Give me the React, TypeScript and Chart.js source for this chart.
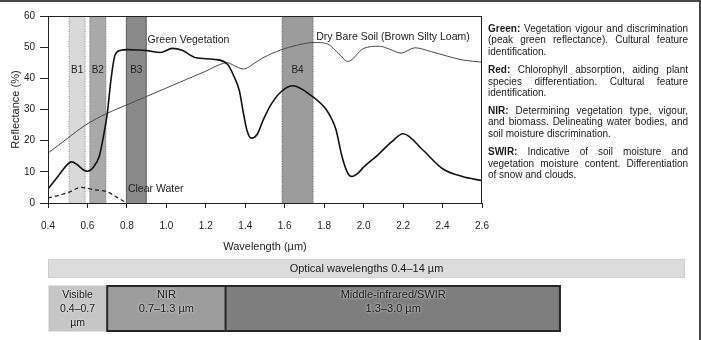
import { useEffect, useRef } from 'react';
import { Chart, registerables } from 'chart.js';

Chart.register(...registerables);

const W = 701;
const H = 340;
const FONT = '"Liberation Sans", Arial, Helvetica, sans-serif';
const INK = '#222';

// Axis ticks
const xTicks = [0.4, 0.6, 0.8, 1.0, 1.2, 1.4, 1.6, 1.8, 2.0, 2.2, 2.4, 2.6];
const yTicks = [0, 10, 20, 30, 40, 50, 60];

// Green vegetation reflectance curve (wavelength µm, reflectance %)
const vegWavelength = [
  0.4, 0.45, 0.5, 0.52, 0.55, 0.58, 0.6, 0.63, 0.66, 0.68, 0.7, 0.72, 0.74, 0.77, 0.8, 0.85, 0.9, 0.97,
  1.03, 1.08, 1.15, 1.24, 1.31, 1.34, 1.37, 1.39, 1.41, 1.43, 1.46, 1.49, 1.525, 1.575, 1.64, 1.74, 1.81,
  1.84, 1.86, 1.89, 1.92, 1.94, 1.97, 2.0, 2.07, 2.14, 2.2, 2.3, 2.4, 2.5, 2.6,
];
const vegReflectance = [
  4.5, 8.5, 12.5, 13.2, 12.2, 10.6, 10.2, 11.5, 15, 21, 28.5, 40, 47.5, 49.0, 49.2, 49.1, 48.9, 48.3,
  49.6, 49.0, 46.6, 46.1, 44.5, 41, 36, 29, 23, 20.8, 22, 26.5, 31, 35.3, 37.6, 34.2, 30,
  26.7, 23.5, 15, 9.5, 8.5, 9.5, 11.5, 15.3, 19.5, 22.2, 17, 11, 8.5, 7.2,
];

// Dry bare soil (brown silty loam)
const soilWavelength = [
  0.4, 0.5, 0.59, 0.7, 0.8, 0.9, 1.0, 1.1, 1.2, 1.27, 1.31, 1.34, 1.39, 1.45, 1.49, 1.58, 1.66, 1.75,
  1.81, 1.88, 1.92, 2.0, 2.08, 2.13, 2.19, 2.26, 2.34, 2.42, 2.5, 2.6,
];
const soilReflectance = [
  16.0, 20.8, 25, 28.8, 31.5, 34.2, 36.9, 39.6, 42.3, 44.4, 45.0, 44.2, 43.0, 45, 46.6, 49.1, 50.6, 51.5,
  51.2, 47.5, 45.4, 49.6, 50.3, 49.4, 48.1, 49.8, 48.6, 47.2, 45.9, 45.2,
];

// Clear water
const waterWavelength = [0.4, 0.45, 0.5, 0.57, 0.63, 0.7, 0.75, 0.8];
const waterReflectance = [1.6, 2.4, 3.3, 5.0, 4.3, 3.6, 1.8, 0];

// Sensor bands (µm)
const bandNames = ['B1', 'B2', 'B3', 'B4'];
const bandStart = [0.505, 0.61, 0.795, 1.585];
const bandEnd = [0.59, 0.695, 0.9, 1.745];
const bandFill = ['#d9d9d9', '#a9a9a9', '#8a8a8a', '#9c9c9c'];
const bandEdge = ['#9a9a9a', '#8c8c8c', '#666666', '#707070'];
const bandLabelY = 42.5;

// Curve captions (anchored in data units)
const curveLabels = ['Green Vegetation', 'Dry Bare Soil (Brown Silty Loam)', 'Clear Water'];
const curveLabelX = [0.905, 1.76, 0.805];
const curveLabelY = [52.2, 53.2, 4.6];

// Spectral regions
const regionEdges = [0.4, 0.7, 1.3, 3.0];
const regionText = [['Visible', '0.4–0.7', 'µm'], ['NIR', '0.7–1.3 µm'], ['Middle-infrared/SWIR', '1.3–3.0 µm']];
const regionFill = ['#c6c6c6', '#9d9d9d', '#7e7e7e'];
const opticalLabel = 'Optical wavelengths 0.4–14 µm';

// Side notes: bold heading + justified lines
const noteHeads = ['Green:', 'Red:', 'NIR:', 'SWIR:'];
const noteLines = [
  ['Vegetation vigour and discrimination', '(peak green reflectance). Cultural feature', 'identification.'],
  ['Chlorophyll absorption, aiding plant', 'species differentiation. Cultural feature', 'identification.'],
  ['Determining vegetation type, vigour,', 'and biomass. Delineating water bodies, and', 'soil moisture discrimination.'],
  ['Indicative of soil moisture and', 'vegetation moisture content. Differentiation', 'of snow and clouds.'],
];

const toPoints = (xs: number[], ys: number[]) => xs.map((x, i) => ({ x, y: ys[i] }));

function drawJustified(ctx: CanvasRenderingContext2D, head: string | null, text: string, x: number, y: number, width: number, justify: boolean) {
  const words: { t: string; bold: boolean }[] = [];
  if (head) words.push({ t: head, bold: true });
  text.split(' ').forEach((t) => words.push({ t, bold: false }));
  const reg = `10px ${FONT}`;
  const bold = `bold 10px ${FONT}`;
  const widths = words.map((w) => {
    ctx.font = w.bold ? bold : reg;
    return ctx.measureText(w.t).width;
  });
  ctx.font = reg;
  const space = ctx.measureText(' ').width;
  const total = widths.reduce((a, b) => a + b, 0);
  const gap = justify && words.length > 1 ? (width - total) / (words.length - 1) : space;
  let cx = x;
  words.forEach((w, i) => {
    ctx.font = w.bold ? bold : reg;
    ctx.fillText(w.t, cx, y);
    cx += widths[i] + gap;
  });
}

const decorPlugin = {
  id: 'decor',
  beforeDatasetsDraw(chart: any) {
    const { ctx, chartArea: a, scales } = chart;
    const x = scales.x;
    const y = scales.y;
    ctx.save();
    bandNames.forEach((name, i) => {
      const l = x.getPixelForValue(bandStart[i]);
      const r = x.getPixelForValue(bandEnd[i]);
      ctx.fillStyle = bandFill[i];
      ctx.fillRect(l, a.top, r - l, a.bottom - a.top);
      ctx.strokeStyle = bandEdge[i];
      ctx.lineWidth = 1;
      ctx.setLineDash(i === 2 ? [] : [1, 1.5]);
      ctx.beginPath();
      ctx.moveTo(l + 0.5, a.top);
      ctx.lineTo(l + 0.5, a.bottom);
      ctx.moveTo(r - 0.5, a.top);
      ctx.lineTo(r - 0.5, a.bottom);
      ctx.stroke();
      ctx.setLineDash([]);
      ctx.fillStyle = INK;
      ctx.font = `10px ${FONT}`;
      ctx.textAlign = 'center';
      ctx.textBaseline = 'middle';
      ctx.fillText(name, (l + r) / 2, y.getPixelForValue(bandLabelY));
    });
    ctx.restore();
  },
  afterDraw(chart: any) {
    const { ctx, chartArea: a, scales } = chart;
    const x = scales.x;
    const y = scales.y;
    ctx.save();

    // plot frame
    ctx.strokeStyle = INK;
    ctx.lineWidth = 1;
    ctx.strokeRect(a.left + 0.5, a.top + 0.5, a.right - a.left - 1, a.bottom - a.top);

    // curve captions
    ctx.fillStyle = INK;
    ctx.font = `10.5px ${FONT}`;
    ctx.textAlign = 'left';
    ctx.textBaseline = 'middle';
    curveLabels.forEach((t, i) => {
      ctx.fillText(t, x.getPixelForValue(curveLabelX[i]), y.getPixelForValue(curveLabelY[i]));
    });

    // side notes
    const noteX = 488;
    const noteW = 200;
    const paraTop = [29, 70.5, 111, 152.5];
    const lineH = 11.6;
    ctx.fillStyle = '#1a1a1a';
    noteLines.forEach((lines, p) => {
      lines.forEach((line, j) => {
        drawJustified(ctx, j === 0 ? noteHeads[p] : null, line, noteX, paraTop[p] + j * lineH, noteW, j < lines.length - 1);
      });
    });

    // optical wavelengths bar
    const optL = a.left;
    const optR = 685;
    ctx.fillStyle = '#dcdcdc';
    ctx.fillRect(optL, 259, optR - optL, 19);
    ctx.strokeStyle = '#cfcfcf';
    ctx.strokeRect(optL + 0.5, 259.5, optR - optL - 1, 18);
    ctx.fillStyle = '#1a1a1a';
    ctx.font = `11px ${FONT}`;
    ctx.textAlign = 'center';
    ctx.fillText(opticalLabel, (optL + optR) / 2, 269);

    // spectral regions bar
    const top = 285;
    const bot = 332;
    const edges = regionEdges.map((v) => x.getPixelForValue(v));
    regionFill.forEach((c, i) => {
      ctx.fillStyle = c;
      ctx.fillRect(edges[i], top, edges[i + 1] - edges[i], bot - top);
    });
    ctx.strokeStyle = '#e2e2e2';
    ctx.strokeRect(edges[0] + 0.5, top + 0.5, edges[1] - edges[0] - 1, bot - top - 1);
    ctx.strokeStyle = '#262626';
    ctx.lineWidth = 2;
    ctx.strokeRect(edges[1], top + 1, edges[3] - edges[1] - 1, bot - top - 2);
    ctx.beginPath();
    ctx.moveTo(edges[2], top);
    ctx.lineTo(edges[2], bot);
    ctx.stroke();

    ctx.shadowColor = 'rgba(255,255,255,0.95)';
    ctx.shadowBlur = 3;
    ctx.fillStyle = '#1a1a1a';
    regionText.forEach((lines, i) => {
      ctx.font = i === 0 ? `10.5px ${FONT}` : `11px ${FONT}`;
      lines.forEach((t, j) => {
        ctx.fillText(t, (edges[i] + edges[i + 1]) / 2, 295 + j * 14);
      });
    });
    ctx.shadowBlur = 0;

    // outer frame (top and right)
    ctx.fillStyle = '#474747';
    ctx.fillRect(0, 0, W, 2);
    ctx.fillRect(W - 2, 0, 2, H);
    ctx.restore();
  },
};

export default function App() {
  const canvasRef = useRef<HTMLCanvasElement | null>(null);

  useEffect(() => {
    const canvas = canvasRef.current;
    if (!canvas) return;
    const chart = new Chart(canvas, {
      type: 'line',
      data: {
        datasets: [
          {
            label: 'Green Vegetation',
            data: toPoints(vegWavelength, vegReflectance),
            borderColor: '#111',
            borderWidth: 1.6,
            cubicInterpolationMode: 'monotone',
            pointRadius: 0,
            fill: false,
          },
          {
            label: 'Dry Bare Soil',
            data: toPoints(soilWavelength, soilReflectance),
            borderColor: '#4a4a4a',
            borderWidth: 1,
            cubicInterpolationMode: 'monotone',
            pointRadius: 0,
            fill: false,
          },
          {
            label: 'Clear Water',
            data: toPoints(waterWavelength, waterReflectance),
            borderColor: '#222',
            borderWidth: 1.3,
            borderDash: [4, 3],
            cubicInterpolationMode: 'monotone',
            pointRadius: 0,
            fill: false,
          },
        ],
      },
      options: {
        responsive: false,
        animation: false,
        devicePixelRatio: 1,
        layout: { padding: { left: 0, top: 16, right: 219, bottom: 85 } },
        plugins: { legend: { display: false }, tooltip: { enabled: false } },
        scales: {
          x: {
            type: 'linear',
            min: 0.4,
            max: 2.6,
            afterBuildTicks: (s: any) => {
              s.ticks = xTicks.map((v) => ({ value: v }));
            },
            afterFit: (s: any) => {
              s.height = 52;
            },
            ticks: {
              callback: (v: any) => Number(v).toFixed(1),
              font: { family: FONT, size: 10 },
              color: INK,
              padding: 12,
              maxRotation: 0,
            },
            grid: { drawOnChartArea: false, drawTicks: true, tickLength: 5, color: INK },
            border: { color: INK },
            title: { display: true, text: 'Wavelength (µm)', font: { family: FONT, size: 11 }, color: INK, padding: { top: 0, bottom: 1 } },
          },
          y: {
            min: 0,
            max: 60,
            afterBuildTicks: (s: any) => {
              s.ticks = yTicks.map((v) => ({ value: v }));
            },
            afterFit: (s: any) => {
              s.width = 48;
            },
            ticks: { font: { family: FONT, size: 10 }, color: INK, padding: 5 },
            grid: { drawOnChartArea: false, drawTicks: true, tickLength: 8, color: INK },
            border: { color: INK },
            title: { display: true, text: 'Reflectance (%)', font: { family: FONT, size: 11 }, color: INK, padding: { top: 9, bottom: 0 } },
          },
        },
      },
      plugins: [decorPlugin],
    } as any);
    return () => chart.destroy();
  }, []);

  return (
    <div style={{ position: 'fixed', left: 0, top: 0, width: W, height: H, background: '#fff' }}>
      <canvas ref={canvasRef} width={W} height={H} style={{ display: 'block', width: W, height: H }} />
    </div>
  );
}
